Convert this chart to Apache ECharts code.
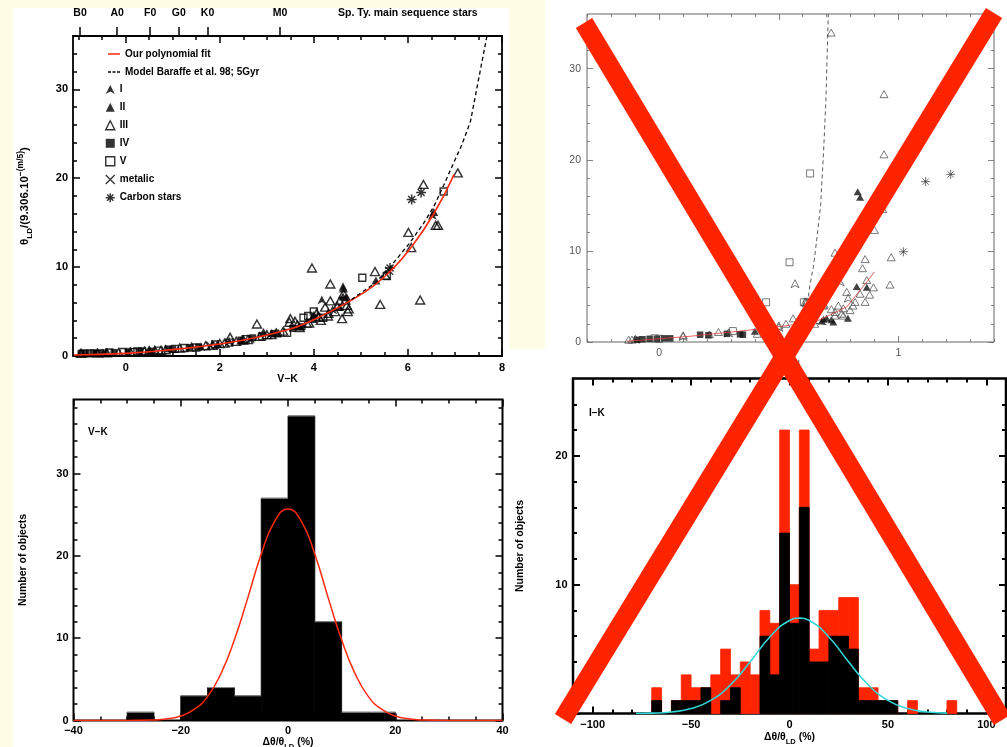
<!DOCTYPE html>
<html><head><meta charset="utf-8">
<script src="https://cdn.jsdelivr.net/npm/echarts@6/dist/echarts.min.js"></script>
<style>html,body{margin:0;padding:0;background:#fff}#c{width:1007px;height:747px}</style>
</head><body><div id="c"></div><script>
// ---------------- DATA ----------------
// Panel 1 (V-K vs normalised angular diameter)
const p1_I = [[0.5,0.6],[1.6,1.05],[2.2,1.6],[2.65,1.9],[3.1,2.5],[4.17,6.3],[4.4,5.2],[4.62,7.8],[6.52,15.8]];
const p1_II = [[1.95,1.35],[2.45,1.75],[2.93,2.7],[3.25,2.6],[3.7,3.3],[4.0,4.6],[4.55,5.5],[4.62,6.7],[4.63,7.6],[4.7,6.6],[5.32,8.5],[6.55,16.2]];
const p1_III = [[-0.95,0.3],[-0.6,0.35],[-0.4,0.35],[-0.15,0.4],[0.1,0.45],[0.4,0.55],[0.5,0.6],[0.62,0.65],[0.75,0.65],[0.85,0.7],[1.15,0.9],[1.4,1.0],[1.7,1.15],[1.85,1.2],[2.0,1.4],[2.1,1.45],[2.22,2.1],[2.35,1.65],[2.5,1.8],[2.6,1.85],[2.79,3.6],[2.85,2.2],[3.0,2.4],[3.1,2.4],[3.2,2.6],[3.35,2.8],[3.48,3.8],[3.5,4.2],[3.6,3.9],[3.65,3.5],[3.7,3.2],[3.85,3.7],[3.9,3.7],[3.96,9.9],[4.1,4.4],[4.15,4.0],[4.24,5.5],[4.3,4.5],[4.31,4.8],[4.35,8.1],[4.35,6.2],[4.06,4.8],[4.45,5.0],[4.5,5.6],[4.55,6.2],[4.6,4.2],[4.63,7.0],[4.67,6.3],[4.70,5.7],[4.74,5.3],[4.72,5.0],[5.30,9.5],[5.41,5.8],[5.52,9.1],[6.01,13.9],[6.07,12.2],[6.26,6.3],[6.33,19.3],[6.59,14.7],[6.64,14.7],[7.06,20.6]];
const p1_IV = [[-0.95,0.3],[-0.85,0.3],[-0.7,0.35],[-0.6,0.3],[-0.45,0.35],[-0.25,0.4],[0.05,0.45],[0.3,0.5],[0.55,0.55],[0.9,0.8],[1.0,0.75],[1.35,0.95],[1.55,1.0],[2.45,1.8],[2.7,2.05],[3.15,2.55],[3.55,3.1],[3.75,3.3],[4.0,4.1]];
const p1_V = [[-0.9,0.3],[-0.75,0.3],[-0.55,0.3],[-0.35,0.4],[-0.05,0.45],[0.15,0.45],[0.25,0.5],[0.35,0.5],[0.7,0.6],[1.05,0.8],[1.25,0.9],[1.5,0.95],[1.9,1.3],[2.2,1.5],[2.55,1.9],[2.9,2.2],[3.43,2.6],[3.78,4.3],[3.88,4.5],[4.0,5.0],[4.2,4.3],[5.03,8.8],[5.55,9.0],[6.76,18.5]];
const p1_metalic = [[1.8,1.15],[4.05,4.4],[5.6,9.6]];
const p1_carbon = [[5.62,9.9],[6.08,17.6],[6.28,18.4]];
const p1_fit = [[-1.1,0.12],[0,0.3],[1,0.72],[2,1.35],[2.7,2.0],[3.3,2.75],[3.7,3.4],[4.2,4.6],[4.77,6.2],[5.27,7.9],[5.62,9.5],[6.05,12.1],[6.55,16.0],[6.98,20.4]];
const p1_model = [[4.8,6.35],[5.3,8.2],[5.62,10.0],[6.05,12.8],[6.33,14.9],[6.55,16.8],[6.76,19.2],[6.97,21.7],[7.15,23.8],[7.33,26.4],[7.68,36]];
const p1_spTypes = ['B0','A0','F0','G0','K0','M0'];
const p1_spPos = [-0.97,-0.18,0.52,1.13,1.74,3.28];
const p1_xTicks = [0,2,4,6,8];
const p1_yTicks = [0,10,20,30];

// Panel 2 (J-H)
const p2_I = [[0.568,6.4],[0.756,6.6],[0.61,4.4],[0.615,4.3],[-0.1,0.3],[0.1,0.6],[0.5,1.6],[0.79,4.8],[0.29,1.0]];
const p2_II = [[0.83,16.5],[0.84,15.9],[0.826,6.1],[0.868,6.0],[0.789,2.6],[0.728,2.2],[0.687,2.5],[0.70,2.6],[0.40,1.17],[0.68,2.3],[0.72,2.45]];
const p2_III = [[0.719,33.96],[0.94,27.2],[0.94,20.6],[0.935,14.6],[0.90,12.3],[0.735,9.8],[0.97,9.3],[0.861,9.1],[0.85,8.1],[0.965,6.3],[0.69,4.1],[0.784,5.5],[0.84,5.3],[0.896,6.0],[0.819,4.4],[0.861,4.4],[0.749,4.0],[0.798,3.5],[0.735,3.3],[0.763,3.1],[0.687,4.0],[0.868,6.8],[0.81,4.0],[0.77,3.7],[0.735,2.9],[0.77,2.9],[0.88,5.2],[0.6,2.3],[0.56,2.6],[0.5,1.8],[0.47,1.5],[0.53,2.0],[0.58,2.2],[-0.128,0.26],[-0.114,0.26],[0.10,0.73],[0.21,0.84],[0.248,1.1],[0.41,0.9],[0.45,1.6],[0.65,2.0],[0.62,1.9],[0.72,3.6]];
const p2_IV = [[-0.093,0.25],[-0.07,0.3],[-0.04,0.35],[-0.01,0.35],[0.02,0.4],[0.046,0.4],[0.171,0.8],[0.206,0.75],[0.283,0.9],[0.338,0.85],[0.35,0.8]];
const p2_V = [[0.631,18.5],[0.545,8.75],[0.447,4.36],[0.605,4.36],[0.308,1.2],[0.0,0.35],[-0.02,0.4],[0.62,4.4]];
const p2_carbon = [[1.114,17.6],[1.219,18.4],[1.021,9.9]];
const p2_fit = [[-0.135,0.08],[0.13,0.63],[0.436,1.47],[0.652,2.2],[0.784,3.85],[0.868,6.6],[0.90,7.7]];
const p2_model = [[0.70,1.9],[0.64,2.1],[0.622,3.0],[0.624,5.0],[0.63,6.2],[0.645,8.3],[0.66,11.5],[0.675,15],[0.687,20.7],[0.697,26.5],[0.707,36]];
const p2_xTicks = [0,0.5,1];
const p2_yTicks = [0,10,20,30];

// Panel 3 (V-K residual histogram)
const p3_binStart = [-30,-25,-20,-15,-10,-5,0,5,10,15];
const p3_counts   = [1,0,3,4,3,27,37,12,1,1];
const p3_binWidth = 5;
const p3_gauss = [[-40,0],[-30,0],[-25,0.06],[-22.5,0.2],[-20,0.54],[-17.5,1.34],[-15,2.9],[-12.5,5.7],[-10,9.8],[-7.5,14.9],[-5,20.2],[-2.5,24.2],[0,25.7],[2.5,24.2],[5,20.2],[7.5,14.9],[10,9.8],[12.5,5.7],[15,2.9],[17.5,1.34],[20,0.54],[22.5,0.2],[25,0.06],[30,0],[40,0]];
const p3_xTicks = [-40,-20,0,20,40];
const p3_yTicks = [0,10,20,30];

// Panel 4 (I-K residual histogram)
const p4_binStart = [-70,-65,-60,-55,-50,-45,-40,-35,-30,-25,-20,-15,-10,-5,0,5,10,15,20,25,30,35,40,45,50,55,60,65,70,75,80];
const p4_total    = [2,0,1,3,2,2,3,5,3,4,3,8,7,22,10,22,5,8,8,9,9,2,2,1,1,0,1,0,0,0,1];
const p4_black    = [1,0,1,1,1,2,0,1,2,0,0,6,3,14,7,16,4,4,6,6,5,1,1,1,1,0,0,0,0,0,0];
const p4_binWidth = 5;
const p4_gauss = [[-78,0.01],[-70,0.03],[-60,0.12],[-50,0.38],[-40,1.02],[-30,2.23],[-20,4.01],[-10,5.94],[0,7.22],[5,7.4],[10,7.22],[20,5.94],[30,4.01],[40,2.23],[50,1.02],[60,0.38],[70,0.12],[80,0.03]];
const p4_xTicks = [-100,-50,0,50,100];
const p4_yTicks = [0,10,20];

// ---------------- STYLE ----------------
const FF = '"Liberation Sans", Arial, sans-serif';
const YEL = '#fffde6';
const RED = '#ff2400';
const minus = v => (v < 0 ? '\u2212' + Math.abs(v) : String(v));
function steps(a, b, s, skip) {
  const out = [];
  for (let i = 0; a + i * s <= b + 1e-9; i++) {
    const r = Math.round((a + i * s) * 1000) / 1000;
    if (!skip.some(m => Math.abs(m - r) < 1e-6)) out.push(r);
  }
  return out;
}
function makeAxes(dim, gi, min, max, majors, minors, st) {
  const pos = dim === 'x' ? ['bottom', 'top'] : ['left', 'right'];
  const base = {type: 'value', gridIndex: gi, min: min, max: max, splitLine: {show: false},
    axisLine: {show: false, onZero: false}, axisPointer: {show: false}, silent: true, nameMoveOverlap: false};
  const tick = (vals, len) => ({show: true, inside: true, length: len, customValues: vals,
    lineStyle: {color: st.tickColor, width: st.tickWidth}});
  const off = {show: false};
  return [
    Object.assign({}, base, {position: pos[0], axisTick: tick(majors, st.majorLen),
      axisLabel: {show: true, customValues: majors, margin: st.margin, formatter: minus,
        color: st.labelColor, fontFamily: FF, fontSize: st.fontSize, fontWeight: st.fontWeight},
      name: st.name || '', nameLocation: 'middle', nameGap: st.nameGap || 0,
      nameRotate: dim === 'y' ? 90 : 0, nameTextStyle: st.nameStyle || {}}),
    Object.assign({}, base, {position: pos[0], axisTick: tick(minors, st.minorLen), axisLabel: off}),
    Object.assign({}, base, {position: pos[1], axisTick: tick(majors, st.majorLen), axisLabel: off}),
    Object.assign({}, base, {position: pos[1], axisTick: tick(minors, st.minorLen), axisLabel: off})
  ];
}
const bold = {tickColor: '#000', tickWidth: 1.5, majorLen: 7, minorLen: 4, labelColor: '#000', fontSize: 11, fontWeight: 'bold', margin: 6};
const thin = {tickColor: '#666', tickWidth: 0.8, majorLen: 6, minorLen: 3, labelColor: '#555', fontSize: 10.5, fontWeight: 'normal', margin: 6};
const richName = {
  a: {fontFamily: FF, fontSize: 10.5, fontWeight: 'bold', color: '#000', lineHeight: 16, verticalAlign: 'middle'},
  b: {fontFamily: FF, fontSize: 7.5, fontWeight: 'bold', color: '#000', lineHeight: 16, verticalAlign: 'bottom'},
  c: {fontFamily: FF, fontSize: 8, fontWeight: 'bold', color: '#000', lineHeight: 16, verticalAlign: 'top'}
};
const richName1 = {
  a: {fontFamily: FF, fontSize: 11.5, fontWeight: 'bold', color: '#000', lineHeight: 18, verticalAlign: 'middle'},
  b: {fontFamily: FF, fontSize: 8, fontWeight: 'bold', color: '#000', lineHeight: 18, verticalAlign: 'bottom'},
  c: {fontFamily: FF, fontSize: 8.5, fontWeight: 'bold', color: '#000', lineHeight: 18, verticalAlign: 'top'}
};
const nameStyle = {fontFamily: FF, fontSize: 10.5, fontWeight: 'bold', color: '#000'};

const xAxes = [].concat(
  makeAxes('x', 0, -1.12, 8, p1_xTicks, steps(-1, 7.5, 0.5, p1_xTicks), Object.assign({}, bold, {name: 'V\u2212K', nameGap: 18, nameStyle: nameStyle})),
  makeAxes('x', 1, -0.302, 1.40, p2_xTicks, steps(-0.3, 1.4, 0.1, p2_xTicks), Object.assign({}, thin, {name: 'J\u2212H', nameGap: 18, nameStyle: {fontFamily: FF, fontSize: 10.5, color: '#555'}})),
  makeAxes('x', 2, -40, 40, p3_xTicks, steps(-35, 35, 5, p3_xTicks), Object.assign({}, bold, {margin: 5, name: '{a|\u0394\u03b8/\u03b8}{b|LD}{a| (%)}', nameGap: 14, nameStyle: {rich: richName}})),
  makeAxes('x', 3, -110, 110, p4_xTicks, steps(-100, 100, 10, p4_xTicks), Object.assign({}, bold, {tickWidth: 2, name: '{a|\u0394\u03b8/\u03b8}{b|LD}{a| (%)}', nameGap: 16, nameStyle: {rich: richName}}))
);
// spectral-type top axis of panel 1
xAxes.push({type: 'value', gridIndex: 0, position: 'top', min: -1.12, max: 8, silent: true,
  splitLine: {show: false}, axisLine: {show: false, onZero: false}, axisPointer: {show: false},
  axisTick: {show: true, inside: false, length: 9, customValues: p1_spPos, lineStyle: {color: '#000', width: 1.5}},
  axisLabel: {show: true, customValues: p1_spPos, margin: 17, color: '#000', fontFamily: FF, fontSize: 10.5, fontWeight: 'bold',
    formatter: v => p1_spTypes[p1_spPos.findIndex(p => Math.abs(p - v) < 1e-6)] || ''}});

const yAxes = [].concat(
  makeAxes('y', 0, 0, 36, p1_yTicks, steps(2, 34, 2, p1_yTicks), Object.assign({}, bold, {margin: 5, name: '{a|\u03b8}{b|LD}{a|/(9.306.10}{c|\u2212(m/5)}{a|)}', nameGap: 39, nameStyle: {rich: richName1}})),
  makeAxes('y', 1, 0, 36, p2_yTicks, steps(2, 34, 2, p2_yTicks), Object.assign({}, thin, {margin: 6})),
  makeAxes('y', 2, 0, 39, p3_yTicks, steps(2, 38, 2, p3_yTicks), Object.assign({}, bold, {margin: 5, name: 'Number of objects', nameGap: 45, nameStyle: nameStyle})),
  makeAxes('y', 3, 0, 26, p4_yTicks, steps(2, 24, 2, p4_yTicks), Object.assign({}, bold, {tickWidth: 2, margin: 5.5, name: 'Number of objects', nameGap: 47, nameStyle: nameStyle}))
);

const grids = [
  {left: 73, top: 36, width: 429, height: 320, borderColor: '#000', borderWidth: 1.8},
  {left: 587, top: 14, width: 407, height: 328, borderColor: '#666', borderWidth: 1},
  {left: 73.5, top: 399.5, width: 429, height: 321, borderColor: '#000', borderWidth: 2},
  {left: 573, top: 378.5, width: 433, height: 335, borderColor: '#000', borderWidth: 2.5}
].map(g => Object.assign({show: true, backgroundColor: 'rgba(0,0,0,0)', containLabel: false, outerBoundsMode: 'none'}, g));

// symbols
const SYM = {
  I: 'path://M0,-10L9,8L0,3L-9,8Z',
  X: 'path://M-5,-5L5,5M5,-5L-5,5',
  AST: 'path://M0,-6L0,6M-6,0L6,0M-4.2,-4.2L4.2,4.2M4.2,-4.2L-4.2,4.2',
  LINE: 'path://M0,0h16v2h-16z',
  DASH: 'path://M0,0h4v2h-4zM6,0h4v2h-4zM12,0h4v2h-4z'
};
const HOLLOW = 'rgba(0,0,0,0)';
function scatter(name, data, gi, symbol, size, item, z) {
  return {type: 'scatter', name: name, xAxisIndex: gi * 4, yAxisIndex: gi * 4, data: data, symbol: symbol,
    symbolSize: size, itemStyle: item, z: z || 3, silent: true, emphasis: {disabled: true}};
}
function line(name, data, gi, color, width, type, smooth) {
  return {type: 'line', name: name, xAxisIndex: gi * 4, yAxisIndex: gi * 4, data: data, symbol: 'none',
    smooth: smooth || false, lineStyle: {color: color, width: width, type: type}, itemStyle: {color: color}, z: 4, silent: true};
}
function hist(starts, counts, width, gi, fill, topColor, z) {
  const data = starts.map((s, i) => [s, s + width, counts[i]]);
  return {type: 'custom', xAxisIndex: gi * 4, yAxisIndex: gi * 4, data: data, z: z, silent: true,
    encode: {x: [0, 1], y: 2},
    renderItem: function (params, api) {
      const h = api.value(2);
      if (!h) return null;
      const p0 = api.coord([api.value(0), 0]);
      const p1 = api.coord([api.value(1), h]);
      const children = [{type: 'rect', shape: {x: p0[0], y: p1[1], width: p1[0] - p0[0], height: p0[1] - p1[1]},
        style: {fill: fill, stroke: fill, lineWidth: 0.8}}];
      if (topColor) children.push({type: 'line', z2: 5, shape: {x1: p0[0], y1: p1[1], x2: p1[0], y2: p1[1]},
        style: {stroke: topColor, lineWidth: 1}});
      return {type: 'group', children: children};
    }};
}

const b1 = {color: '#000'};
const o1 = {color: HOLLOW, borderColor: '#000', borderWidth: 1.4};
const b2 = {color: '#111'};
const o2 = {color: HOLLOW, borderColor: '#444', borderWidth: 0.9};

const series = [
  line('Our polynomial fit', p1_fit, 0, '#ff2a10', 1.6, 'solid', true),
  line('Model Baraffe et al. 98; 5Gyr', p1_model, 0, '#000', 1.3, [4, 3], false),
  scatter('I', p1_I, 0, SYM.I, [9, 9], b1),
  scatter('II', p1_II, 0, 'triangle', [9, 8], b1),
  scatter('III', p1_III, 0, 'triangle', [9, 8], o1),
  scatter('IV', p1_IV, 0, 'rect', 7, b1),
  scatter('V', p1_V, 0, 'rect', 7, o1),
  scatter('metalic', p1_metalic, 0, SYM.X, 8, {color: HOLLOW, borderColor: '#000', borderWidth: 1.3}),
  scatter('Carbon stars', p1_carbon, 0, SYM.AST, 10, {color: HOLLOW, borderColor: '#000', borderWidth: 1.5}),

  line('p2 fit', p2_fit, 1, '#e23a3a', 0.8, 'solid', false),
  line('p2 model', p2_model, 1, '#333', 0.8, [4, 3], false),
  scatter('p2 I', p2_I, 1, SYM.I, [8, 8], o2),
  scatter('p2 II', p2_II, 1, 'triangle', [8, 7], b2),
  scatter('p2 III', p2_III, 1, 'triangle', [8, 7], o2),
  scatter('p2 IV', p2_IV, 1, 'rect', 6.5, b2),
  scatter('p2 V', p2_V, 1, 'rect', 7, o2),
  scatter('p2 carbon', p2_carbon, 1, SYM.AST, 9, {color: HOLLOW, borderColor: '#333', borderWidth: 0.9}),

  hist(p3_binStart, p3_counts, p3_binWidth, 2, '#000', '#8a8a8a', 2),
  line('p3 gauss', p3_gauss, 2, '#ff2a10', 1.5, 'solid', true),

  hist(p4_binStart, p4_total, p4_binWidth, 3, RED, null, 2),
  hist(p4_binStart, p4_black, p4_binWidth, 3, '#000', null, 3),
  line('p4 gauss', p4_gauss, 3, '#33d6d6', 1.6, 'solid', true)
];

const legText = {fontFamily: FF, fontSize: 10, fontWeight: 'bold', color: '#000', lineHeight: 10};
const legends = [
  {data: [
      {name: 'Our polynomial fit', icon: SYM.LINE, itemStyle: {color: '#ff2a10', borderWidth: 0}},
      {name: 'Model Baraffe et al. 98; 5Gyr', icon: SYM.DASH, itemStyle: {color: '#000', borderWidth: 0}}
    ], orient: 'vertical', left: 108, top: 49,
    itemWidth: 12, itemHeight: 1.8, itemGap: 7.9, padding: 0, selectedMode: false, textStyle: legText},
  {data: [
      {name: 'I', icon: SYM.I, itemStyle: {color: '#000', borderWidth: 0}},
      {name: 'II', icon: 'triangle', itemStyle: {color: '#000', borderWidth: 0}},
      {name: 'III', icon: 'triangle', itemStyle: {color: HOLLOW, borderColor: '#000', borderWidth: 1.4}},
      {name: 'IV', icon: 'rect', itemStyle: {color: '#000', borderWidth: 0}},
      {name: 'V', icon: 'rect', itemStyle: {color: HOLLOW, borderColor: '#000', borderWidth: 1.4}},
      {name: 'metalic', icon: SYM.X, itemStyle: {color: HOLLOW, borderColor: '#000', borderWidth: 1.3}},
      {name: 'Carbon stars', icon: SYM.AST, itemStyle: {color: HOLLOW, borderColor: '#000', borderWidth: 1.5}}
    ], orient: 'vertical', left: 105, top: 84.5,
    itemWidth: 9, itemHeight: 9, itemGap: 7.8, padding: 0, selectedMode: false, textStyle: legText}
];

const txt = (x, y, t, extra) => ({type: 'text', x: x, y: y, z: 50, silent: true,
  style: Object.assign({text: t, fill: '#000', font: 'bold 10.5px ' + FF, align: 'left', verticalAlign: 'middle'}, extra || {})});

const graphic = [
  {type: 'rect', shape: {x: 0, y: 0, width: 13, height: 747}, style: {fill: YEL}, z: -1, silent: true},
  {type: 'rect', shape: {x: 0, y: 0, width: 545, height: 8}, style: {fill: YEL}, z: -1, silent: true},
  {type: 'rect', shape: {x: 509, y: 0, width: 36, height: 349}, style: {fill: YEL}, z: -1, silent: true},
  txt(338, 13, 'Sp. Ty. main sequence stars'),
  txt(88, 432, 'V\u2212K', {font: 'bold 10px ' + FF}),
  txt(589, 413, 'I\u2212K', {font: 'bold 10px ' + FF}),
  {type: 'line', shape: {x1: 584, y1: 23, x2: 1002, y2: 720}, style: {stroke: RED, lineWidth: 19, lineCap: 'butt'}, z: 100, silent: true},
  {type: 'line', shape: {x1: 994, y1: 13, x2: 563, y2: 719}, style: {stroke: RED, lineWidth: 19, lineCap: 'butt'}, z: 100, silent: true}
];

const chart = echarts.init(document.getElementById('c'), null, {renderer: 'canvas'});
chart.setOption({
  animation: false,
  backgroundColor: '#ffffff',
  grid: grids,
  xAxis: xAxes,
  yAxis: yAxes,
  legend: legends,
  tooltip: {show: false},
  series: series,
  graphic: graphic
});
</script></body></html>
